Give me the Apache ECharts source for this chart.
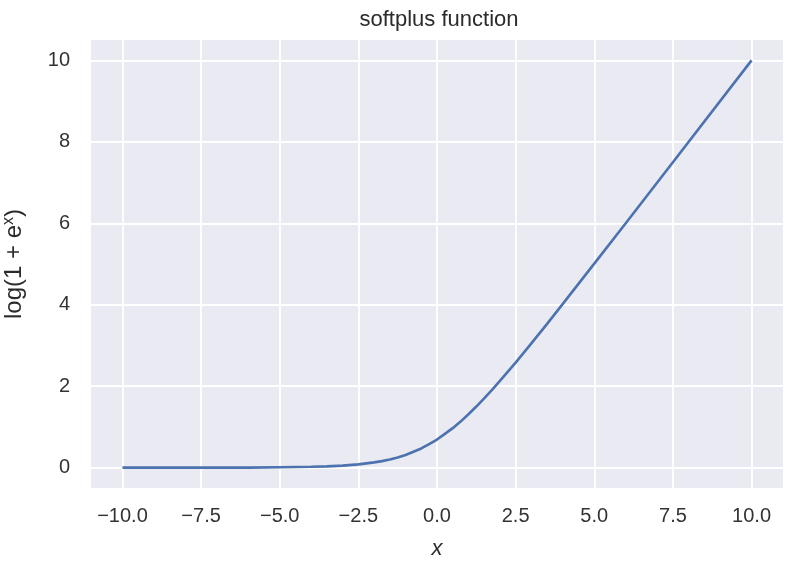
<!DOCTYPE html>
<html>
<head>
<meta charset="utf-8">
<script src="https://cdn.jsdelivr.net/npm/echarts@6/dist/echarts.min.js"></script>
<style>
  html, body { margin: 0; padding: 0; background: #fff; }
  #main { width: 803px; height: 569px; }
</style>
</head>
<body>
<div id="main"></div>
<script>
// values
var xs = [-10, -7.5, -6, -5, -4, -3.5, -3, -2.5, -2, -1.75, -1.5, -1.25, -1, -0.75, -0.5, -0.25,
          0, 0.25, 0.5, 0.75, 1, 1.25, 1.5, 1.75, 2, 2.5, 3, 3.5, 4, 5, 6, 7.5, 10];
var ys = [0.00, 0.00, 0.00, 0.01, 0.02, 0.03, 0.05, 0.08, 0.13, 0.16, 0.20, 0.25, 0.31, 0.39, 0.47, 0.58,
          0.69, 0.83, 0.97, 1.13, 1.31, 1.50, 1.70, 1.91, 2.13, 2.58, 3.05, 3.53, 4.02, 5.01, 6.00, 7.50, 10.00];
var xTicks = [-10, -7.5, -5, -2.5, 0, 2.5, 5, 7.5, 10];
var yTicks = [0, 2, 4, 6, 8, 10];

var points = xs.map(function (x, i) { return [x, ys[i]]; });
var font = 'Liberation Sans';
var minus = function (s) { return s.replace('-', '\u2212'); };

var chart = echarts.init(document.getElementById('main'));
chart.setOption({
    animation: false,
    textStyle: { fontFamily: font },
    title: {
        text: 'softplus function',
        left: 434, top: 4, textAlign: 'center',
        textStyle: { fontFamily: font, fontSize: 22, fontWeight: 'normal', color: '#2b2b2b' }
    },
    grid: {
        left: 91, top: 40, right: 20, bottom: 81, outerBoundsMode: 'none',
        show: true, backgroundColor: '#eaeaf2', borderWidth: 0
    },
    xAxis: {
        type: 'value', min: -11, max: 11,
        name: 'x', nameLocation: 'middle', nameGap: 50,
        nameTextStyle: { fontFamily: font, fontSize: 22, fontStyle: 'italic', color: '#2b2b2b' },
        axisLine: { show: false },
        axisTick: { show: false, customValues: xTicks },
        axisLabel: {
            customValues: xTicks, margin: 18, fontSize: 20, color: '#333',
            formatter: function (v) { return minus(v.toFixed(1)); }
        },
        splitLine: { show: true, lineStyle: { color: '#fff', width: 1.8 } }
    },
    yAxis: {
        type: 'value', min: -0.5, max: 10.5,
        name: 'log(1 + e{sup|x})', nameLocation: 'middle', nameGap: 64, nameRotate: 90,
        nameTextStyle: {
            fontFamily: font, fontSize: 24, color: '#2b2b2b',
            rich: { sup: { fontSize: 16, verticalAlign: 'top', padding: [0, 0, 10, 0], fontFamily: font, color: '#2b2b2b' } }
        },
        axisLine: { show: false },
        axisTick: { show: false, customValues: yTicks },
        axisLabel: { customValues: yTicks, margin: 21, fontSize: 20, color: '#333' },
        splitLine: { show: true, lineStyle: { color: '#fff', width: 1.8 } }
    },
    series: [{
        type: 'line',
        data: points,
        smooth: false,
        showSymbol: false,
        lineStyle: { color: '#4c72b0', width: 2.6 }
    }]
});
</script>
</body>
</html>
